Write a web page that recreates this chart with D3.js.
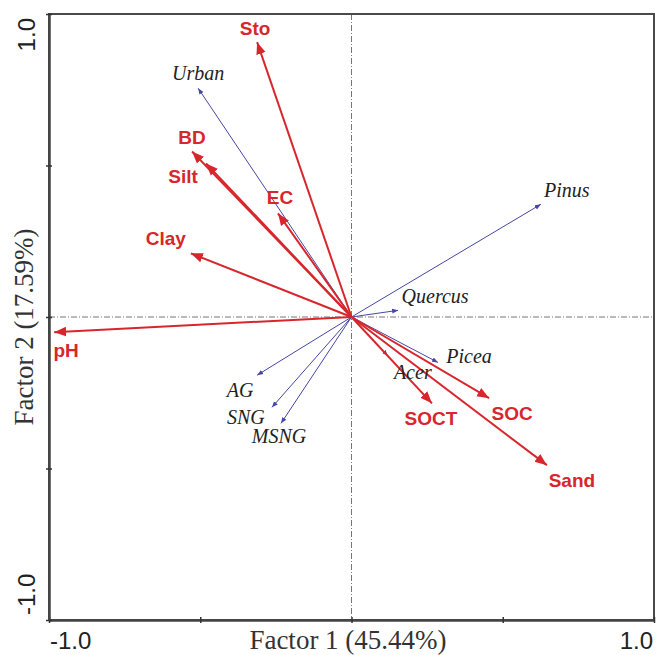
<!DOCTYPE html>
<head>
  <meta charset="utf-8">
  <style>
    body { margin: 0; background: #fff; }
    svg { display: block; }
  </style>
</head>
<svg width="657" height="655"></svg>
<script src="https://d3js.org/d3.v7.min.js"></script>
<script>
  // soil variables (red arrows)
  const soilVars = ["Sto", "BD", "Silt", "EC", "Clay", "pH", "SOCT", "SOC", "Sand"];
  const soilF1 = [-0.312, -0.527, -0.481, -0.243, -0.531, -0.983, 0.266, 0.455, 0.646];
  const soilF2 = [0.907, 0.546, 0.507, 0.342, 0.210, -0.050, -0.285, -0.268, -0.489];

  // land use / species (blue arrows)
  const species = ["Urban", "Pinus", "Quercus", "Picea", "Acer", "AG", "SNG", "MSNG"];
  const speciesF1 = [-0.507, 0.626, 0.154, 0.286, 0.120, -0.312, -0.263, -0.233];
  const speciesF2 = [0.755, 0.372, 0.022, -0.150, -0.128, -0.192, -0.298, -0.351];

  const tickVals = [-1, -0.5, 0, 0.5, 1];
  const tickLabels = ["-1.0", "", "", "", "1.0"];
  const xTitle = "Factor 1 (45.44%)";
  const yTitle = "Factor 2 (17.59%)";

  const svg = d3.select("svg");
  const red = "#d8262d", blue = "#4646a6";

  const x = d3.scaleLinear().domain([-1, 1]).range([49, 654]);
  const y = d3.scaleLinear().domain([-1, 1]).range([620, 14]);

  // label nudges in px (relative to arrow tip)
  const nudge = {
    Sto: [-2, -7], BD: [0, -8], Silt: [-23, 20], EC: [2, -9], Clay: [-25, -8],
    pH: [12, 25], SOCT: [-1, 22], SOC: [23, 22], Sand: [25, 22],
    Urban: [0, -8], Pinus: [26, -7], Quercus: [37, -7], Picea: [31, 1],
    Acer: [25, 23], AG: [-17, 22], SNG: [-26, 17], MSNG: [-2, 20]
  };

  const defs = svg.append("defs");
  function marker(id, color, size) {
    defs.append("marker")
      .attr("id", id)
      .attr("viewBox", "0 -5 10 10")
      .attr("refX", 10)
      .attr("refY", 0)
      .attr("markerUnits", "userSpaceOnUse")
      .attr("markerWidth", size)
      .attr("markerHeight", size)
      .attr("orient", "auto")
      .append("path")
      .attr("d", "M0,-4L10,0L0,4Z")
      .attr("fill", color);
  }
  marker("headRed", red, 12);
  marker("headBlue", blue, 6);

  // zero lines
  svg.append("line")
    .attr("x1", x(0)).attr("x2", x(0)).attr("y1", y(1)).attr("y2", y(-1))
    .attr("stroke", "#777").attr("stroke-width", 1).attr("stroke-dasharray", "6,2,1,2");
  svg.append("line")
    .attr("x1", x(-1)).attr("x2", x(1)).attr("y1", y(0)).attr("y2", y(0))
    .attr("stroke", "#777").attr("stroke-width", 1).attr("stroke-dasharray", "6,2,1,2");

  // frame
  svg.append("rect")
    .attr("x", x(-1)).attr("y", y(1))
    .attr("width", x(1) - x(-1)).attr("height", y(-1) - y(1))
    .attr("fill", "none").attr("stroke", "#4a4a4a").attr("stroke-width", 2);

  // axes (tick marks only)
  const xAxis = svg.append("g")
    .attr("transform", "translate(0," + y(-1) + ")")
    .call(d3.axisBottom(x).tickValues(tickVals).tickSize(3).tickSizeOuter(0).tickFormat(""));
  const yAxis = svg.append("g")
    .attr("transform", "translate(" + x(-1) + ",0)")
    .call(d3.axisLeft(y).tickValues(tickVals).tickSize(3).tickSizeOuter(0).tickFormat(""));
  [xAxis, yAxis].forEach(function(g) {
    g.select(".domain").attr("stroke", "#444").attr("stroke-width", 2.5);
    g.selectAll(".tick line").attr("stroke", "#333").attr("stroke-width", 1.5);
  });
  xAxis.selectAll(".tick line").attr("y1", -3);
  yAxis.selectAll(".tick line").attr("x1", 3);

  // tick labels
  const tickFont = "'Liberation Sans', Arial, sans-serif";
  tickVals.forEach(function(v, i) {
    if (!tickLabels[i]) return;
    svg.append("text")
      .attr("x", i === 0 ? x(v) + 1 : x(v) - 1)
      .attr("y", 649)
      .attr("text-anchor", i === 0 ? "start" : "end")
      .attr("font-family", tickFont).attr("font-size", 24).attr("fill", "#222")
      .text(tickLabels[i]);
    const yy = i === 0 ? y(v) - 5 : y(v) + 4;
    svg.append("text")
      .attr("transform", "translate(35," + yy + ") rotate(-90)")
      .attr("text-anchor", i === 0 ? "start" : "end")
      .attr("font-family", tickFont).attr("font-size", 24).attr("fill", "#222")
      .text(tickLabels[i]);
  });

  // axis titles
  svg.append("text")
    .attr("x", 348).attr("y", 649)
    .attr("text-anchor", "middle")
    .attr("font-family", "'Liberation Serif', 'Times New Roman', serif")
    .attr("font-size", 27).attr("fill", "#333")
    .text(xTitle);
  svg.append("text")
    .attr("transform", "translate(33,327) rotate(-90)")
    .attr("text-anchor", "middle")
    .attr("font-family", "'Liberation Serif', 'Times New Roman', serif")
    .attr("font-size", 27).attr("fill", "#333")
    .text(yTitle);

  // blue arrows
  const spData = species.map(function(n, i) { return { name: n, f1: speciesF1[i], f2: speciesF2[i] }; });
  svg.append("g").selectAll("line")
    .data(spData)
    .enter().append("line")
    .attr("x1", x(0)).attr("y1", y(0))
    .attr("x2", function(d) { return x(d.f1); })
    .attr("y2", function(d) { return y(d.f2); })
    .attr("stroke", blue).attr("stroke-width", 1)
    .attr("marker-end", "url(#headBlue)");

  // red arrows
  const soilData = soilVars.map(function(n, i) { return { name: n, f1: soilF1[i], f2: soilF2[i] }; });
  svg.append("g").selectAll("line")
    .data(soilData)
    .enter().append("line")
    .attr("x1", x(0)).attr("y1", y(0))
    .attr("x2", function(d) { return x(d.f1); })
    .attr("y2", function(d) { return y(d.f2); })
    .attr("stroke", red).attr("stroke-width", 2)
    .attr("marker-end", "url(#headRed)");

  // labels
  svg.append("g").selectAll("text")
    .data(spData)
    .enter().append("text")
    .attr("x", function(d) { return x(d.f1) + nudge[d.name][0]; })
    .attr("y", function(d) { return y(d.f2) + nudge[d.name][1]; })
    .attr("text-anchor", "middle")
    .attr("font-family", "'Liberation Serif', 'Times New Roman', serif")
    .attr("font-style", "italic")
    .attr("font-size", 20)
    .attr("fill", "#222")
    .text(function(d) { return d.name; });

  svg.append("g").selectAll("text")
    .data(soilData)
    .enter().append("text")
    .attr("x", function(d) { return x(d.f1) + nudge[d.name][0]; })
    .attr("y", function(d) { return y(d.f2) + nudge[d.name][1]; })
    .attr("text-anchor", "middle")
    .attr("font-family", "'Liberation Sans', Arial, sans-serif")
    .attr("font-weight", "bold")
    .attr("font-size", 19)
    .attr("fill", red)
    .text(function(d) { return d.name; });
</script>
